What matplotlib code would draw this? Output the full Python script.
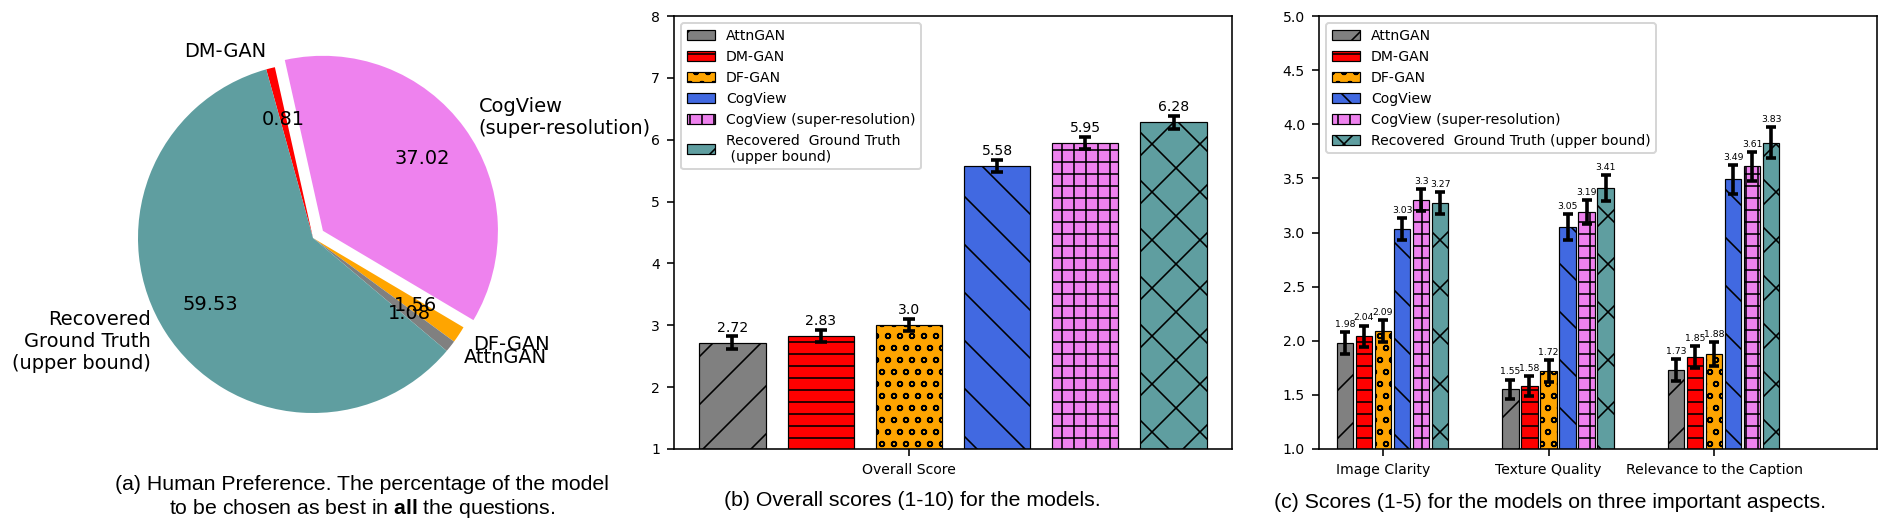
import matplotlib
matplotlib.use("Agg")
from matplotlib import pyplot as plt
import numpy as np

plt.rcParams['hatch.linewidth'] = 0.8
plt.rcParams['mathtext.fontset'] = 'custom'
plt.rcParams['mathtext.bf'] = 'Liberation Sans:bold'
plt.rcParams['mathtext.rm'] = 'Liberation Sans'

# (a) pie: share of "best in all questions"
pie_labels = ['DM-GAN', 'CogView\n(super-resolution)', 'DF-GAN', 'AttnGAN',
              'Recovered\nGround Truth\n(upper bound)']
pie_values = [0.81, 37.02, 1.56, 1.08, 59.53]
pie_colors = ['red', 'violet', 'orange', 'gray', 'cadetblue']
pie_explode = [0, 0.07, 0, 0, 0]

# models, shared by (b) and (c)
models = ['AttnGAN', 'DM-GAN', 'DF-GAN', 'CogView', 'CogView (super-resolution)',
          'Recovered  Ground Truth (upper bound)']
models_b = models[:5] + ['Recovered  Ground Truth\n (upper bound)']
colors = ['gray', 'red', 'orange', 'royalblue', 'violet', 'cadetblue']
hatches = ['/', '--', 'oo', '\\', '++', 'x']

# (b) overall scores
overall = [2.72, 2.83, 3.0, 5.58, 5.95, 6.28]
overall_err = [0.1, 0.1, 0.1, 0.1, 0.1, 0.1]

# (c) aspects
aspects = ['Image Clarity', 'Texture Quality', 'Relevance to the Caption']
aspect_scores = [
    [1.98, 1.55, 1.73],
    [2.04, 1.58, 1.85],
    [2.09, 1.72, 1.88],
    [3.03, 3.05, 3.49],
    [3.3, 3.19, 3.61],
    [3.27, 3.41, 3.83],
]
aspect_err = [
    [0.1, 0.09, 0.1],
    [0.1, 0.09, 0.1],
    [0.1, 0.1, 0.11],
    [0.1, 0.12, 0.13],
    [0.1, 0.11, 0.13],
    [0.1, 0.12, 0.14],
]

fig = plt.figure(figsize=(1890 / 144, 529 / 144), dpi=144)
W, H = 1890, 529

# ---- (a) ----
ax1 = fig.add_axes([13 / W, 1 - 456 / H, 600 / W, 436 / H])
ax1.pie(pie_values, labels=pie_labels, colors=pie_colors, explode=pie_explode,
        startangle=105.5, counterclock=False, autopct=lambda p: f'{p:.2f}',
        pctdistance=0.7, labeldistance=1.1, textprops={'fontsize': 9.7})
ax1.set_xlim(-300 / 175, 300 / 175)
ax1.set_ylim(-218 / 175, 218 / 175)

# ---- (b) ----
ax2 = fig.add_axes([674 / W, 1 - 449 / H, 558 / W, 433 / H])
x = np.arange(len(models))
for i in range(len(models)):
    ax2.bar(x[i], overall[i] - 1, bottom=1, width=0.75, color=colors[i], hatch=hatches[i],
            edgecolor='black', linewidth=0.6, label=models_b[i])
    ax2.errorbar(x[i], overall[i], yerr=overall_err[i], color='black', elinewidth=1.8,
                 capsize=3, capthick=1.8)
    ax2.text(x[i], overall[i] + overall_err[i] + 0.03, str(overall[i]), ha='center',
             va='bottom', fontsize=7)
ax2.set_ylim(1, 8)
ax2.set_xticks([2])
ax2.set_xticklabels(['Overall Score'])
ax2.tick_params(labelsize=7)
ax2.legend(loc='upper left', fontsize=7)

# ---- (c) ----
ax3 = fig.add_axes([1319 / W, 1 - 449 / H, 558 / W, 433 / H])
g = np.arange(len(aspects))
width = 0.1
step = 0.115
for i in range(len(models)):
    pos = g + (i - 2) * step
    ax3.bar(pos, np.array(aspect_scores[i]) - 1, bottom=1, width=width, color=colors[i],
            hatch=hatches[i], edgecolor='black', linewidth=0.6, label=models[i])
    ax3.errorbar(pos, aspect_scores[i], yerr=aspect_err[i], fmt='none', ecolor='black',
                 elinewidth=1.8, capsize=2.5, capthick=1.8)
    for p, v, e in zip(pos, aspect_scores[i], aspect_err[i]):
        ax3.text(p, v + e + 0.03, str(v), ha='center', va='bottom', fontsize=4.6)
ax3.set_ylim(1, 5)
ax3.set_xlim(-0.387, 2.985)
ax3.set_xticks(g)
ax3.set_xticklabels(aspects)
ax3.tick_params(labelsize=7)
ax3.legend(loc='upper left', fontsize=7)

# ---- captions ----
cap = dict(fontsize=10.6, family='Liberation Sans', ha='center', va='center')
fig.text(362 / W, 1 - 485 / H, '(a) Human Preference. The percentage of the model', **cap)
fig.text(362 / W, 1 - 508 / H, r'to be chosen as best in $\mathbf{all}$ the questions.', **cap)
fig.text(912 / W, 1 - 501 / H, '(b) Overall scores (1-10) for the models.', **cap)
fig.text(1550 / W, 1 - 502 / H, '(c) Scores (1-5) for the models on three important aspects.', **cap)

fig.savefig('out.png', dpi=144)
